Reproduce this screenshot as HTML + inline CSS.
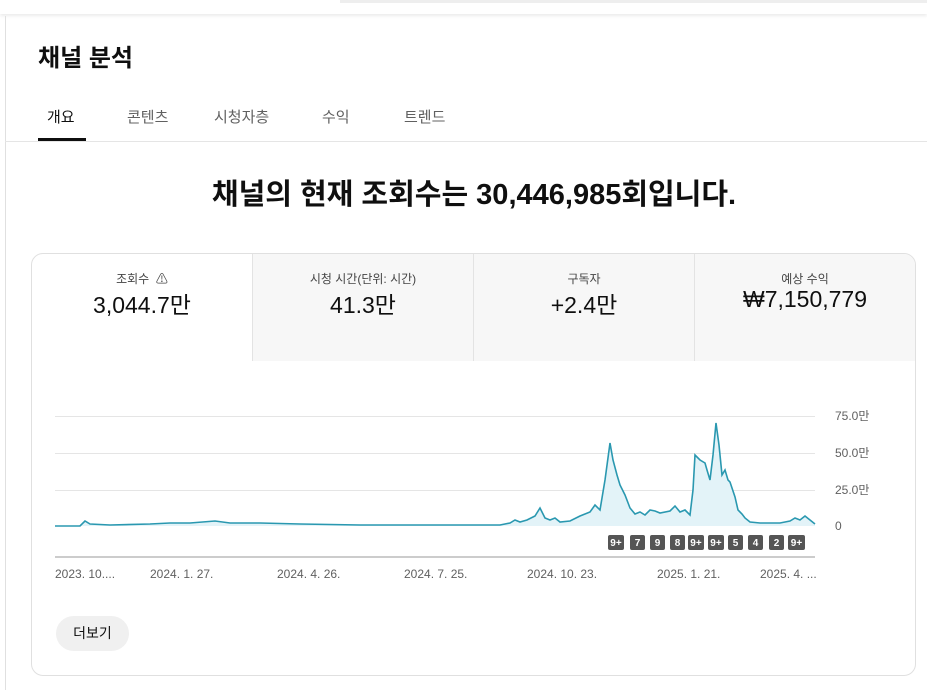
<!DOCTYPE html>
<html><head><meta charset="utf-8"><style>
body{margin:0;width:927px;height:690px;background:#fff;position:relative;overflow:hidden;font-family:"Liberation Sans","Noto Sans CJK KR",sans-serif;color:#0f0f0f}
.abs{position:absolute}
</style></head><body>
<div class="abs" style="left:0;top:0;width:927px;height:14px;background:#fff;box-shadow:0 2px 3px rgba(0,0,0,0.08)"></div>
<div class="abs" style="left:340px;top:0;width:587px;height:3px;background:#eee"></div>
<div class="abs" style="left:5px;top:16px;width:1px;height:674px;background:#e0e0e0"></div>
<div class="abs" style="left:38px;top:38px;font-size:24px;font-weight:bold">채널 분석</div>
<div class="abs" style="left:47px;top:106px;font-size:15px;color:#0f0f0f">개요</div>
<div class="abs" style="left:127px;top:106px;font-size:15px;color:#606060">콘텐츠</div>
<div class="abs" style="left:214px;top:106px;font-size:15px;color:#606060">시청자층</div>
<div class="abs" style="left:322px;top:106px;font-size:15px;color:#606060">수익</div>
<div class="abs" style="left:404px;top:106px;font-size:15px;color:#606060">트렌드</div>
<div class="abs" style="left:38px;top:138px;width:48px;height:3px;background:#0f0f0f"></div>
<div class="abs" style="left:5px;top:141px;width:922px;height:1px;background:#e5e5e5"></div>
<div class="abs" style="left:0;top:171px;width:948px;text-align:center;font-size:29px;font-weight:bold">채널의 현재 조회수는 30,446,985회입니다.</div>
<div class="abs" style="left:31px;top:253px;width:883px;height:421px;border:1px solid #e0e0e0;border-radius:12px;overflow:hidden">
 <div class="abs" style="left:220px;top:0;width:663px;height:107px;background:#f7f7f7"></div>
 <div class="abs" style="left:220px;top:0;width:1px;height:107px;background:#e3e3e3"></div>
 <div class="abs" style="left:441px;top:0;width:1px;height:107px;background:#e3e3e3"></div>
 <div class="abs" style="left:662px;top:0;width:1px;height:107px;background:#e3e3e3"></div>
 <div class="abs" style="left:0;top:16px;width:220px;text-align:center;font-size:12px;color:#444">조회수 &nbsp;⚠</div>
 <div class="abs" style="left:0;top:32px;width:220px;text-align:center;font-size:23px">3,044.7만</div>
 <div class="abs" style="left:221px;top:16px;width:220px;text-align:center;font-size:12px;color:#444">시청 시간(단위: 시간)</div>
 <div class="abs" style="left:221px;top:32px;width:220px;text-align:center;font-size:23px">41.3만</div>
 <div class="abs" style="left:442px;top:16px;width:220px;text-align:center;font-size:12px;color:#444">구독자</div>
 <div class="abs" style="left:442px;top:32px;width:220px;text-align:center;font-size:23px">+2.4만</div>
 <div class="abs" style="left:663px;top:16px;width:220px;text-align:center;font-size:12px;color:#444">예상 수익</div>
 <div class="abs" style="left:663px;top:32px;width:220px;text-align:center;font-size:23px">₩7,150,779</div>
 <div class="abs" style="left:24px;top:362px;width:73px;height:35px;border-radius:18px;background:#f0f0f0;text-align:center;line-height:35px;font-size:14px">더보기</div>
</div>
<svg class="abs" style="left:0;top:0" width="927" height="690">
<g stroke="#e5e5e5" stroke-width="1">
<line x1="55" y1="416.5" x2="815" y2="416.5"/><line x1="55" y1="453.5" x2="815" y2="453.5"/><line x1="55" y1="490.5" x2="815" y2="490.5"/>
</g>
<line x1="55" y1="557" x2="815" y2="557" stroke="#ccc" stroke-width="2"/>
<path d="M55,526 L80,526 L85,521 L90,524 L110,525 L150,524 L170,523 L190,523 L215,521 L230,523 L260,523 L300,524 L360,525 L500,525 L510,523 L515,520 L520,522 L527,520 L535,516 L540,508 L545,518 L550,520 L555,518 L560,522 L570,521 L580,516 L590,512 L595,505 L600,510 L605,480 L610,443 L613,460 L617,475 L620,485 L625,495 L630,508 L635,514 L640,512 L645,515 L650,510 L655,511 L660,513 L670,511 L675,506 L680,512 L685,510 L690,515 L693,490 L695,455 L700,460 L705,463 L707,470 L710,480 L713,455 L716,423 L719,445 L722,475 L725,470 L728,480 L730,482 L735,497 L738,510 L742,514 L745,518 L750,522 L760,523 L780,523 L790,521 L795,518 L800,520 L805,516 L810,520 L815,524 L815,526 Z" fill="#e3f3f8" stroke="none"/>
<path d="M55,526 L80,526 L85,521 L90,524 L110,525 L150,524 L170,523 L190,523 L215,521 L230,523 L260,523 L300,524 L360,525 L500,525 L510,523 L515,520 L520,522 L527,520 L535,516 L540,508 L545,518 L550,520 L555,518 L560,522 L570,521 L580,516 L590,512 L595,505 L600,510 L605,480 L610,443 L613,460 L617,475 L620,485 L625,495 L630,508 L635,514 L640,512 L645,515 L650,510 L655,511 L660,513 L670,511 L675,506 L680,512 L685,510 L690,515 L693,490 L695,455 L700,460 L705,463 L707,470 L710,480 L713,455 L716,423 L719,445 L722,475 L725,470 L728,480 L730,482 L735,497 L738,510 L742,514 L745,518 L750,522 L760,523 L780,523 L790,521 L795,518 L800,520 L805,516 L810,520 L815,524" fill="none" stroke="#2a98b0" stroke-width="1.6"/>
<g font-family="Liberation Sans, Noto Sans CJK KR, sans-serif" font-size="12" fill="#606060">
<text x="835" y="420">75.0만</text><text x="835" y="457">50.0만</text><text x="835" y="494">25.0만</text><text x="835" y="530">0</text>
<text x="55" y="578">2023. 10....</text><text x="150" y="578">2024. 1. 27.</text><text x="277" y="578">2024. 4. 26.</text><text x="404" y="578">2024. 7. 25.</text><text x="527" y="578">2024. 10. 23.</text><text x="657" y="578">2025. 1. 21.</text><text x="760" y="578">2025. 4. ...</text>
</g>
<g fill="#555"><rect x="608" y="535" width="16" height="15" rx="2"/><rect x="630" y="535" width="15" height="15" rx="2"/><rect x="650" y="535" width="15" height="15" rx="2"/><rect x="670" y="535" width="15" height="15" rx="2"/><rect x="688" y="535" width="16" height="15" rx="2"/><rect x="708" y="535" width="16" height="15" rx="2"/><rect x="728" y="535" width="15" height="15" rx="2"/><rect x="748" y="535" width="15" height="15" rx="2"/><rect x="769" y="535" width="15" height="15" rx="2"/><rect x="788" y="535" width="17" height="15" rx="2"/></g>
<g font-family="Liberation Sans, sans-serif" font-size="10" font-weight="bold" fill="#fff" text-anchor="middle">
<text x="616" y="546">9+</text><text x="637.5" y="546">7</text><text x="657.5" y="546">9</text><text x="677.5" y="546">8</text><text x="696" y="546">9+</text><text x="716" y="546">9+</text><text x="735.5" y="546">5</text><text x="755.5" y="546">4</text><text x="776.5" y="546">2</text><text x="796.5" y="546">9+</text></g>
</svg>
</body></html>
